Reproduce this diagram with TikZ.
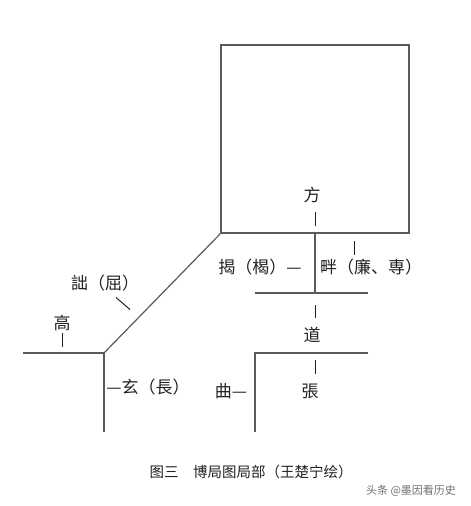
\documentclass[tikz,border=0pt]{standalone}
\usepackage{fontspec}
\newfontfamily\cjk{Noto Sans CJK SC}
\definecolor{linegray}{HTML}{5A5A5A}
\definecolor{txtblack}{HTML}{222222}
\definecolor{markgray}{HTML}{707070}
\tikzset{
  shapeline/.style={draw=linegray, line width=1.6pt},
  tickline/.style={draw=txtblack, line width=1pt},
  lbl/.style={inner sep=0pt, text=txtblack, font=\cjk\fontsize{17}{17}\selectfont},
  captext/.style={inner sep=0pt, text=txtblack, font=\cjk\fontsize{14.5}{14.5}\selectfont},
  wmark/.style={inner sep=0pt, text=markgray, font=\cjk\fontsize{11}{11}\selectfont},
}
\begin{document}
\begin{tikzpicture}[x=1pt,y=-1pt]
\useasboundingbox (0,0) rectangle (471,506);
\fill[white] (0,0) rectangle (471,506);
% square
\coordinate (sqTL) at (221,45);
\coordinate (sqBR) at (409,233);
\coordinate (sqBL) at (221,233);
\draw[shapeline] (sqTL) rectangle (sqBR);
% T shape under square
\coordinate (tTop) at (315,233);
\coordinate (tMid) at (315,293);
\coordinate (tL) at (255,293);
\coordinate (tR) at (368,293);
\draw[shapeline] (tTop) -- (tMid);
\draw[shapeline] (tL) -- (tR);
% corner lower right
\coordinate (cR) at (368,353);
\coordinate (cC) at (255,353);
\coordinate (cB) at (255,432);
\draw[shapeline] (cR) -- (cC) -- (cB);
% left corner and diagonal
\coordinate (lL) at (23,353);
\coordinate (lC) at (104,353);
\coordinate (lB) at (104,432);
\draw[shapeline] (lL) -- (lC) -- (lB);
\draw[shapeline, line width=1.2pt] (lC) -- (sqBL);
% labels
\node[lbl] (fang) at (312,195) {方};
\node[lbl] (jie) at (260,267) {揭（楬）—};
\node[lbl] (pan) at (371,267) {畔（廉、専）};
\node[lbl] (dao) at (312,335) {道};
\node[lbl] (zhang) at (310,391.5) {張};
\node[lbl] (qu) at (231,391) {曲—};
\node[lbl] (gao) at (62,323) {高};
\node[lbl] (qu2) at (105,283) {詘（屈）};
\node[lbl] (xuan) at (148,387) {—玄（長）};
% ticks
\coordinate (t1a) at (315,212); \coordinate (t1b) at (315,226);
\draw[tickline] (t1a) -- (t1b);
\coordinate (t2a) at (354,241); \coordinate (t2b) at (354,255);
\draw[tickline] (t2a) -- (t2b);
\coordinate (t3a) at (315,305); \coordinate (t3b) at (315,318);
\draw[tickline] (t3a) -- (t3b);
\coordinate (t4a) at (315,360); \coordinate (t4b) at (315,374);
\draw[tickline] (t4a) -- (t4b);
\coordinate (t5a) at (62,333); \coordinate (t5b) at (62,347);
\draw[tickline] (t5a) -- (t5b);
\coordinate (t6a) at (116,297.5); \coordinate (t6b) at (130,309.5);
\draw[tickline] (t6a) -- (t6b);
% caption
\node[captext] (caption) at (251,472) {图三　博局图局部（王楚宁绘）};
\node[wmark] (mark) at (411,491) {头条 @墨因看历史};
\end{tikzpicture}
\end{document}
